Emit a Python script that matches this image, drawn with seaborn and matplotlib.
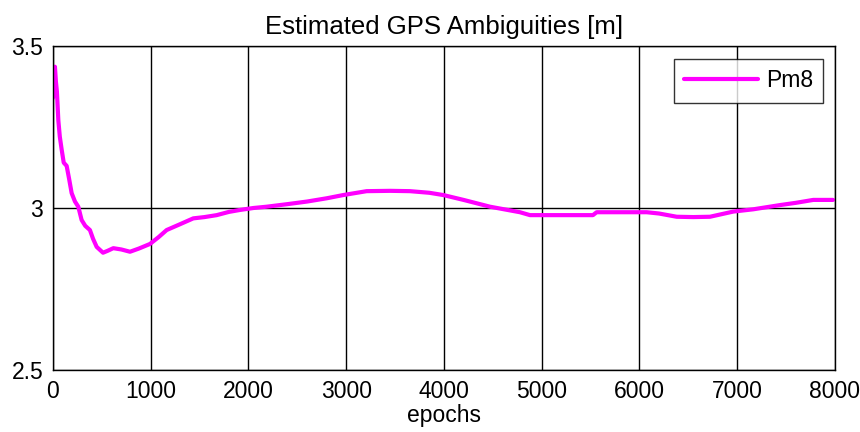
import matplotlib
matplotlib.use("Agg")
import matplotlib.pyplot as plt
import seaborn as sns
import pandas as pd

# Estimated ambiguity of satellite Pm8 over the epochs
epochs = [0, 10, 20, 30, 40, 55, 70, 89, 110, 140, 165, 191, 225, 259, 293, 330, 378,
          410, 447, 512, 560, 617, 700, 788, 880, 992, 1080, 1163, 1300, 1435, 1550,
          1675, 1800, 1913, 2050, 2186, 2400, 2600, 2800, 2970, 3209, 3450, 3652, 3850,
          3993, 4200, 4471, 4777, 4880, 5200, 5524, 5562, 5800, 6074, 6200, 6381, 6550,
          6721, 6960, 7164, 7437, 7600, 7778, 7980]
pm8 = [3.34, 3.40, 3.436, 3.39, 3.36, 3.27, 3.22, 3.18, 3.14, 3.13, 3.09, 3.046, 3.02,
       3.004, 2.963, 2.945, 2.932, 2.905, 2.88, 2.862, 2.868, 2.876, 2.872, 2.865,
       2.875, 2.889, 2.91, 2.932, 2.95, 2.968, 2.972, 2.978, 2.988, 2.994, 3.0, 3.004,
       3.012, 3.02, 3.03, 3.04, 3.052, 3.053, 3.052, 3.047, 3.04, 3.025, 3.004, 2.987,
       2.978, 2.978, 2.978, 2.987, 2.987, 2.987, 2.983, 2.973, 2.972, 2.973, 2.989,
       2.996, 3.009, 3.016, 3.025, 3.025]

x_ticks = [0, 1000, 2000, 3000, 4000, 5000, 6000, 7000, 8000]
y_ticks = [2.5, 3.0, 3.5]
y_tick_labels = ["2.5", "3", "3.5"]

df = pd.DataFrame({"epochs": epochs, "value": pm8, "series": "Pm8"})

sns.set_style("white")
plt.rcParams["font.family"] = ["Liberation Sans", "DejaVu Sans"]
plt.rcParams["text.color"] = "black"
plt.rcParams["axes.labelcolor"] = "black"
plt.rcParams["xtick.color"] = "black"
plt.rcParams["ytick.color"] = "black"

fig = plt.figure(figsize=(8.6, 4.32), dpi=100)
ax = fig.add_axes([0.0616, 0.1435, 0.9093, 0.75])

sns.lineplot(data=df, x="epochs", y="value", hue="series", palette={"Pm8": "#ff00ff"},
             linewidth=3, ax=ax)

ax.set_xlim(0, 8000)
ax.set_ylim(2.5, 3.5)
ax.set_xticks(x_ticks)
ax.set_xticklabels([str(t) for t in x_ticks])
ax.set_yticks(y_ticks)
ax.set_yticklabels(y_tick_labels)
ax.grid(True, color="black", linewidth=1, linestyle="-")
ax.tick_params(direction="in", length=4, colors="black", labelsize=16.5, pad=7)
for s in ax.spines.values():
    s.set_color("black")
    s.set_linewidth(1)

ax.set_title("Estimated GPS Ambiguities [m]", fontsize=18.5, pad=9, color="black")
ax.set_xlabel("epochs", fontsize=16.5, labelpad=1, color="black")
ax.set_ylabel("")

leg = ax.legend(loc="upper right", bbox_to_anchor=(0.985, 0.96), borderaxespad=0,
                frameon=True, fancybox=False, fontsize=16.5, handlelength=3.2,
                handletextpad=0.35, borderpad=0.45)
leg.get_frame().set_edgecolor("black")
leg.get_frame().set_linewidth(1)
leg.set_title(None)

fig.savefig("out.png", dpi=100, facecolor="white")
